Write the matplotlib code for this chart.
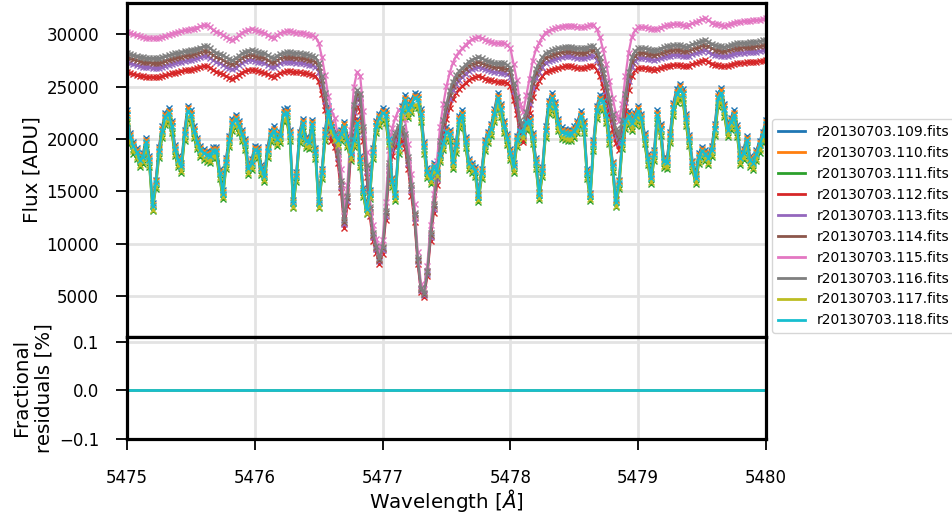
import numpy as np
import matplotlib
matplotlib.use("Agg")
import matplotlib.pyplot as plt
from matplotlib.lines import Line2D

# spectra, one point per 0.025 A from 5475 to 5480
# group A: narrow-line spectrum (frames 109,110,111,117,118)
flux_a = [
    22300, 20200, 19300, 18800, 18000, 18300, 19700, 18000, 13600, 15800,
    18900, 20800, 22100, 22500, 21300, 19100, 18000, 17400, 20500, 22700,
    22300, 20800, 19700, 19000, 18700, 18500, 18400, 18900, 18900, 16800,
    14800, 17800, 19900, 21500, 21900, 21300, 20500, 19600, 17200, 17700,
    19000, 18900, 17200, 16500, 18900, 20400, 20800, 20000, 20300, 22400,
    22500, 20500, 13900, 16500, 20300, 21500, 19800, 19700, 21400, 18800,
    13900, 16800, 20500, 22700, 21200, 20400, 19900, 20500, 21200, 19900,
    18600, 19900, 21500, 18000, 15000, 13300, 14800, 18800, 21300, 22000,
    22500, 22300, 20000, 16000, 14600, 19300, 22700, 23700, 22800, 23300,
    23900, 23800, 22400, 19300, 16900, 16300, 17400, 16900, 18500, 19600,
    20700, 20500, 17800, 19400, 21800, 22300, 19800, 17700, 17400, 17000,
    14500, 16800, 19500, 20300, 21000, 22400, 23900, 22900, 21300, 20100,
    18700, 17400, 19900, 20800, 20600, 21600, 21700, 20200, 17800, 14700,
    17000, 20800, 23200, 23900, 23100, 21500, 20700, 20600, 20500, 20500,
    20800, 21300, 22200, 21300, 16800, 14600, 19500, 22700, 23700, 23600,
    22300, 20200, 17500, 14000, 15800, 19700, 21700, 22200, 21500, 22100,
    22700, 22000, 20200, 18200, 16300, 18600, 22300, 21000, 17900, 17800,
    20300, 23000, 24300, 24800, 24300, 22000, 20000, 17600, 16300, 18300,
    18900, 18600, 18200, 19000, 21000, 23900, 24400, 22900, 20900, 21600,
    22300, 20900, 18200, 18700, 19900, 18000, 17700, 18600, 19400, 20300,
    21400,
]
# group B: broad-line spectrum (frames 112-116), traced on frame 116
flux_b = [
    28250, 28150, 28050, 27950, 27870, 27800, 27750, 27750, 27700, 27700,
    27700, 27800, 27900, 28000, 28100, 28180, 28250, 28300, 28400, 28450,
    28500, 28550, 28650, 28750, 28850, 28880, 28700, 28450, 28250, 28150,
    28000, 27800, 27650, 27550, 27700, 27950, 28180, 28350, 28450, 28500,
    28400, 28300, 28250, 28180, 28000, 27800, 27750, 27950, 28150, 28250,
    28300, 28300, 28250, 28200, 28200, 28150, 28100, 28000, 27950, 27800,
    27300, 26000, 24400, 22500, 21200, 20600, 18900, 16000, 12300, 14600,
    19500, 23300, 24700, 24300, 21200, 17500, 13500, 11000, 9800, 8600,
    9700, 13100, 17700, 19700, 20600, 21300, 21200, 20500, 18300, 15600,
    12900, 8600, 5800, 5300, 7400, 11000, 13800, 16700, 19800, 21800,
    23400, 24600, 25500, 26100, 26500, 26800, 27100, 27400, 27600, 27700,
    27800, 27700, 27550, 27450, 27400, 27300, 27250, 27230, 27230, 27100,
    26800, 25400, 24000, 21800, 21100, 22600, 24100, 25700, 26700, 27300,
    27800, 28200, 28350, 28500, 28580, 28660, 28740, 28820, 28820, 28820,
    28750, 28680, 28660, 28660, 28750, 28900, 28900, 28500, 27800, 26700,
    25400, 23900, 22400, 21000, 20300, 21800, 24300, 26400, 27800, 28400,
    28660, 28660, 28660, 28600, 28550, 28500, 28550, 28650, 28800, 28850,
    28900, 28950, 28980, 28950, 28850, 28820, 28900, 29050, 29140, 29250,
    29400, 29460, 29300, 29100, 28980, 28930, 28880, 28820, 28900, 29000,
    29100, 29150, 29170, 29200, 29220, 29250, 29280, 29300, 29350, 29420,
    29460,
]

frames = ["r20130703.%d.fits" % n for n in range(109, 119)]
frame_group = ["a", "a", "a", "b", "b", "b", "b", "b", "a", "a"]
# flux level of each frame relative to its group trace
frame_level = [1.02, 1.01, 0.965, 0.935, 0.968, 0.985, 1.07, 1.0, 0.975, 1.0]
resid_level = 0.0
xticks = [5475, 5476, 5477, 5478, 5479, 5480]

wl = np.linspace(5475, 5480, len(flux_a))
colors = plt.rcParams["axes.prop_cycle"].by_key()["color"]

fig = plt.figure(figsize=(9.52, 5.19), dpi=100)
ax = fig.add_axes([0.1334, 0.3507, 0.6712, 0.6435])
axr = fig.add_axes([0.1334, 0.1551, 0.6712, 0.1956], sharex=ax)

handles = []
for name, g, lev, c in zip(frames, frame_group, frame_level, colors):
    base = np.array(flux_a if g == "a" else flux_b, dtype=float)
    ax.plot(wl, base * lev, "-x", color=c, lw=1.6, ms=4, mew=1.0)
    axr.plot(wl, np.full_like(wl, resid_level), color=c, lw=2)
    handles.append(Line2D([], [], color=c, lw=2, label=name))

for a in (ax, axr):
    a.grid(True, color="0.89", lw=2, zorder=0)
    a.set_axisbelow(True)
    for s in a.spines.values():
        s.set_linewidth(2.3)
    a.tick_params(direction="out", length=8, width=1.3, pad=12, labelsize=12)

ax.set_xlim(5475, 5480)
ax.set_ylim(1100, 33000)
ax.set_yticks([5000, 10000, 15000, 20000, 25000, 30000])
ax.tick_params(axis="x", labelbottom=False, length=0)
ax.set_ylabel("Flux [ADU]", fontsize=14.3)

axr.set_ylim(-0.1, 0.11)
axr.set_yticks([-0.1, 0.0, 0.1])
axr.set_xticks(xticks)
axr.tick_params(axis="x", pad=14)
axr.set_ylabel("Fractional\nresiduals [%]", fontsize=14.3)
axr.set_xlabel(r"Wavelength [$\AA$]", fontsize=14.3, labelpad=0)

fig.legend(handles=handles, loc="upper left", bbox_to_anchor=(0.811, 0.77),
           fontsize=10, frameon=True, borderaxespad=0)

fig.savefig("out.png", dpi=100)
